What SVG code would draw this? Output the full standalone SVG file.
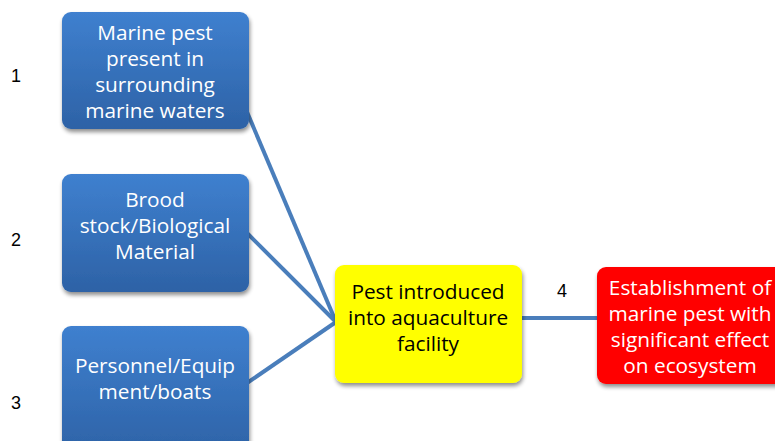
<svg xmlns="http://www.w3.org/2000/svg" width="775" height="441" viewBox="0 0 775 441">
  <defs>
    <linearGradient id="blueFill" x1="0" y1="0" x2="0" y2="1">
      <stop offset="0" stop-color="#3f80cf"/>
      <stop offset="1" stop-color="#2d62a6"/>
    </linearGradient>
    <filter id="shadow" x="-10%" y="-10%" width="125%" height="130%">
      <feGaussianBlur in="SourceAlpha" stdDeviation="2"/>
      <feOffset dx="1" dy="3" result="b"/>
      <feComponentTransfer><feFuncA type="linear" slope="0.45"/></feComponentTransfer>
      <feMerge><feMergeNode/><feMergeNode in="SourceGraphic"/></feMerge>
    </filter>
    <style>
      .box { filter: url(#shadow); }
      .blue { fill: url(#blueFill); }
      .yellow { fill: #ffff00; }
      .red { fill: #ff0000; }
      .lbl { font-family: "Open Sans", "Liberation Sans", sans-serif; font-size: 20.8px; text-anchor: middle; }
      .w { fill: #ffffff; }
      .k { fill: #000000; }
      .num { font-family: "Liberation Sans", sans-serif; font-size: 18px; fill: #000000; text-anchor: middle; }
      .conn { stroke: #4a7ebb; stroke-width: 4; fill: none; }
    </style>
  </defs>
  <rect width="775" height="441" fill="#ffffff"/>

  <g id="connectors">
    <line class="conn" x1="247" y1="112" x2="336" y2="322"/>
    <line class="conn" x1="247" y1="233" x2="336" y2="322"/>
    <line class="conn" x1="247" y1="383" x2="336" y2="322"/>
    <line class="conn" x1="521" y1="318" x2="598" y2="318"/>
  </g>

  <g id="node1">
    <rect class="box blue" x="62" y="12" width="187" height="117" rx="9"/>
    <text class="lbl w" x="155" y="40">Marine pest</text>
    <text class="lbl w" x="155" y="66">present in</text>
    <text class="lbl w" x="155" y="92">surrounding</text>
    <text class="lbl w" x="155" y="118">marine waters</text>
  </g>

  <g id="node2">
    <rect class="box blue" x="62" y="174" width="187" height="118" rx="9"/>
    <text class="lbl w" x="155" y="207">Brood</text>
    <text class="lbl w" x="155" y="233">stock/Biological</text>
    <text class="lbl w" x="155" y="259">Material</text>
  </g>

  <g id="node3">
    <rect class="box blue" x="62" y="326" width="187" height="130" rx="9"/>
    <text class="lbl w" x="155" y="373">Personnel/Equip</text>
    <text class="lbl w" x="155" y="399">ment/boats</text>
  </g>

  <g id="node4">
    <rect class="box yellow" x="335" y="265" width="187" height="118" rx="9"/>
    <text class="lbl k" x="428" y="299">Pest introduced</text>
    <text class="lbl k" x="428" y="325">into aquaculture</text>
    <text class="lbl k" x="428" y="351">facility</text>
  </g>

  <g id="node5">
    <rect class="box red" x="597" y="267" width="200" height="117" rx="9"/>
    <text class="lbl w" x="690" y="295">Establishment of</text>
    <text class="lbl w" x="690" y="321">marine pest with</text>
    <text class="lbl w" x="690" y="347">significant effect</text>
    <text class="lbl w" x="690" y="373">on ecosystem</text>
  </g>

  <g id="numbers">
    <text class="num" x="16" y="82">1</text>
    <text class="num" x="16" y="246">2</text>
    <text class="num" x="16" y="409">3</text>
    <text class="num" x="562" y="297">4</text>
  </g>
</svg>
